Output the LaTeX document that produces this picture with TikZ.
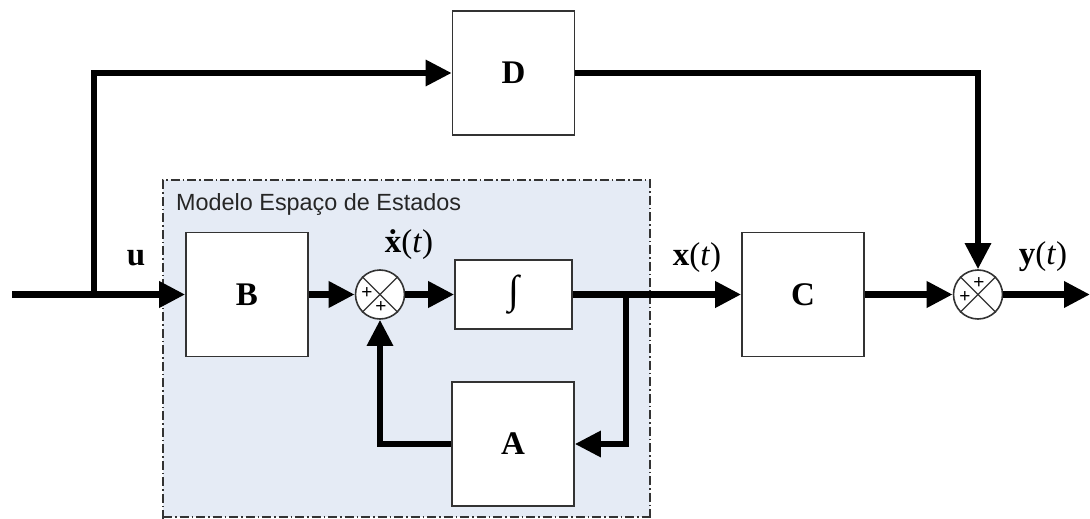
\documentclass[tikz,border=0pt]{standalone}
\usepackage{fontspec}
\setmainfont{Liberation Serif}
\newfontfamily\labelsans{Liberation Sans}
\usetikzlibrary{arrows.meta}
\definecolor{regionfill}{HTML}{E5EBF5}
\definecolor{boxline}{HTML}{333333}
\begin{document}
\begin{tikzpicture}[x=1pt,y=-1pt,
  blk/.style={draw=boxline, line width=1.6pt, fill=white, minimum width=122pt, minimum height=124pt, inner sep=0pt, font=\fontsize{33}{35}\selectfont\bfseries},
  intblk/.style={blk, minimum width=117pt, minimum height=69pt},
  sumj/.style={circle, draw=boxline, line width=1.6pt, fill=white, minimum size=49pt, inner sep=0pt},
  sig/.style={line width=6.5pt, line join=miter, -{Triangle[length=26pt,width=25pt]}},
  thinsig/.style={sig, line width=6pt},
  lbl/.style={font=\fontsize{33}{35}\selectfont, inner sep=0pt},
  pls/.style={font=\labelsans\fontsize{19}{19}\selectfont, inner sep=0pt},
]
\useasboundingbox (0,0) rectangle (1090,519);
% state-space region
\fill[regionfill] (163,180) rectangle (650,517);
\draw[boxline, line width=1.1pt, dash pattern=on 9pt off 3pt on 1.5pt off 3pt] (163,519) -- (163,180) -- (650,180) -- (650,519);
\draw[boxline, line width=1.1pt, dash pattern=on 9pt off 3pt on 1.5pt off 3pt] (163,517) -- (650,517);
\node[anchor=west, inner sep=0pt, text=black!85, font=\labelsans\fontsize{23.4}{25}\selectfont] (title) at (176,205) {Modelo Espaço de Estados};

% blocks
\node[blk] (B) at (247,294.5) {B};
\node[intblk] (I) at (513.5,294.5) {\fontsize{40}{42}\selectfont\mdseries ∫};
\node[blk] (A) at (513,444) {A};
\node[blk] (D) at (513.5,73) {D};
\node[blk] (C) at (803,294.5) {C};
\node[sumj] (S1) at (380,294.5) {};
\node[sumj] (S2) at (978,294.5) {};
\draw[boxline, line width=1.1pt] (S1.north west) -- (S1.south east) (S1.north east) -- (S1.south west);
\draw[boxline, line width=1.1pt] (S2.north west) -- (S2.south east) (S2.north east) -- (S2.south west);
\node[pls] (p1a) at (367,293) {+};
\node[pls] (p1b) at (381,307) {+};
\node[pls] (p2a) at (979,283) {+};
\node[pls] (p2b) at (965,297) {+};

% coordinates
\coordinate (in) at (12,294.5);
\coordinate (br) at (94,294.5);
\coordinate (fb) at (626,294.5);
\coordinate (out) at (1090,294.5);

% connectors
\draw[sig] (in) -- (B.west);
\draw[thinsig] (br) |- (D.west);
\draw[sig] (B.east) -- (S1.west);
\draw[sig] (S1.east) -- (I.west);
\draw[sig] (I.east) -- (C.west);
\draw[thinsig] (fb) |- (A.east);
\draw[thinsig] (A.west) -| (S1.south);
\draw[sig] (C.east) -- (S2.west);
\draw[thinsig] (D.east) -| (S2.north);
\draw[sig] (S2.east) -- (out);

% labels
\node[lbl] (lu) at (136,258) {\textbf{u}};
\node[lbl] (lxd) at (409,245) {\textbf{ẋ}(\textit{t})};
\node[lbl] (lx) at (697,258) {\textbf{x}(\textit{t})};
\node[lbl] (ly) at (1043,257) {\textbf{y}(\textit{t})};
\end{tikzpicture}
\end{document}
